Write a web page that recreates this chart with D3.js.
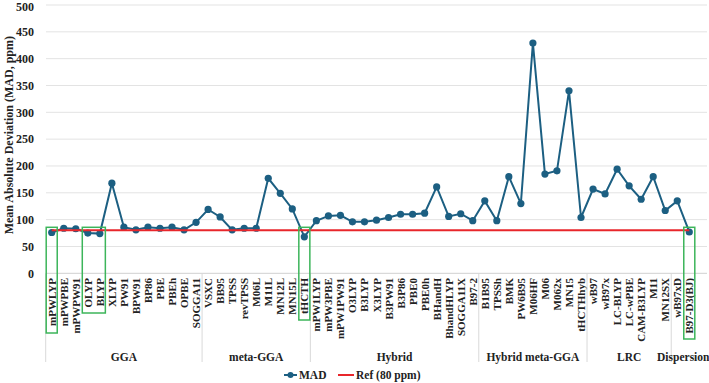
<!DOCTYPE html>
<html>
<head>
<meta charset="utf-8">
<script src="https://cdn.jsdelivr.net/npm/d3@7"></script>
<style>
  body { margin: 0; background: #fff; }
  svg { display: block; font-family: "Liberation Serif", "Times New Roman", serif; font-weight: bold; }
</style>
</head>
<body>
<svg id="chart"></svg>
<script>
// functionals, in plotted order
var categories = ["mPWLYP","mPWPBE","mPWPW91","OLYP","BLYP","XLYP","PW91","BPW91","BP86","PBE","PBEh","OPBE","SOGGA11",
  "VSXC","BB95","TPSS","revTPSS","M06L","M11L","MN12L","MN15L","tHCTH",
  "mPW1LYP","mPW3PBE","mPW1PW91","O3LYP","B3LYP","X3LYP","B3PW91","B3P86","PBE0","PBE0h","BHandH","BhandHLYP","SOGGA11X","B97-2",
  "B1B95","TPSSh","BMK","PW6B95","M06HF","M06","M062x","MN15","tHCTHhyb",
  "wB97","wB97x","LC-BLYP","LC-wPBE","CAM-B3LYP","M11","MN12SX",
  "wB97xD","B97-D3(BJ)"];
var madValues = [76,84,83,75,74,168,86,81,86,84,86,81,95,
  119,105,81,84,84,177,149,120,68,
  98,107,108,96,96,99,104,110,110,112,161,106,111,98,
  135,98,180,130,429,185,191,340,104,
  157,148,194,163,138,180,117,
  135,77];
var refValue = 80;
var groupNames = ["GGA","meta-GGA","Hybrid","Hybrid meta-GGA","LRC","Dispersion"];
var groupSizes = [13,9,14,9,7,2];
var yTicks = [0,50,100,150,200,250,300,350,400,450,500];
// highlighted functionals (boxed), as [first, last, box bottom]
var boxes = [["mPWLYP","mPWLYP",333],["OLYP","BLYP",313],["tHCTH","tHCTH",320],["B97-D3(BJ)","B97-D3(BJ)",339]];

var width = 709, height = 383;
var svg = d3.select("#chart").attr("width", width).attr("height", height);

var x = d3.scaleBand().domain(categories).range([45.7, 695.3]);
var y = d3.scaleLinear().domain([0, 500]).range([273.3, 5]);
var cx = function(c) { return x(c) + x.bandwidth() / 2; };

// grid
svg.append("g").selectAll("line")
   .data(yTicks)
   .enter().append("line")
   .attr("x1", 46).attr("x2", 707)
   .attr("y1", function(d) { return y(d); })
   .attr("y2", function(d) { return y(d); })
   .attr("stroke", function(d) { return d === 0 ? "#d0d0d0" : "#e3e3e3"; })
   .attr("stroke-width", 1);

svg.append("g").selectAll("text")
   .data(yTicks)
   .enter().append("text")
   .attr("x", 34)
   .attr("y", function(d) { return Math.max(y(d) + 4.2, 11); })
   .attr("text-anchor", "end")
   .attr("font-size", 12)
   .attr("fill", "#222")
   .text(function(d) { return d; });

svg.append("text")
   .attr("transform", "translate(12.5," + (y(250) - 4) + ") rotate(-90)")
   .attr("text-anchor", "middle")
   .attr("font-size", 12)
   .attr("fill", "#222")
   .text("Mean Absolute Deviation (MAD, ppm)");

// category labels
svg.append("g").selectAll("text")
   .data(categories)
   .enter().append("text")
   .attr("transform", function(d) { return "translate(" + cx(d) + ",278) rotate(-90)"; })
   .attr("text-anchor", "end")
   .attr("dominant-baseline", "central")
   .attr("font-size", 11)
   .attr("fill", "#222")
   .text(function(d) { return d; });

// group separators and labels
var starts = [0];
groupSizes.forEach(function(n, i) { starts.push(starts[i] + n); });
var edge = function(i) { return i < categories.length ? x(categories[i]) : x(categories[categories.length - 1]) + x.bandwidth(); };
svg.append("g").selectAll("line")
   .data(starts.slice(0, groupSizes.length))
   .enter().append("line")
   .attr("x1", function(d) { return edge(d); })
   .attr("x2", function(d) { return edge(d); })
   .attr("y1", 273.3).attr("y2", 362)
   .attr("stroke", "#d9d9d9").attr("stroke-width", 1);

svg.append("g").selectAll("text")
   .data(groupNames)
   .enter().append("text")
   .attr("x", function(d, i) { return (edge(starts[i]) + edge(starts[i + 1])) / 2; })
   .attr("y", 357)
   .attr("text-anchor", "middle")
   .attr("dominant-baseline", "central")
   .attr("font-size", 11.5)
   .attr("fill", "#222")
   .text(function(d) { return d; });

// MAD series
var line = d3.line()
   .x(function(d, i) { return cx(categories[i]); })
   .y(function(d) { return y(d); });

svg.append("path")
   .datum(madValues)
   .attr("d", line)
   .attr("fill", "none")
   .attr("stroke", "#1c5f82")
   .attr("stroke-width", 2);

svg.append("g").selectAll("circle")
   .data(madValues)
   .enter().append("circle")
   .attr("cx", function(d, i) { return cx(categories[i]); })
   .attr("cy", function(d) { return y(d); })
   .attr("r", 3.6)
   .attr("fill", "#1c5f82");

// reference line
svg.append("path")
   .datum(categories.map(function() { return refValue; }))
   .attr("d", line)
   .attr("fill", "none")
   .attr("stroke", "#e8262b")
   .attr("stroke-width", 2);

// highlight boxes
svg.append("g").selectAll("rect")
   .data(boxes)
   .enter().append("rect")
   .attr("x", function(d) { return x(d[0]) + 0.5; })
   .attr("y", 227.3)
   .attr("width", function(d) { return x(d[1]) + x.bandwidth() - x(d[0]) - 1; })
   .attr("height", function(d) { return d[2] - 227.3; })
   .attr("fill", "none")
   .attr("stroke", "#3cb55a")
   .attr("stroke-width", 1.5);

// legend
var lg = svg.append("g").attr("transform", "translate(0,375)");
lg.append("line").attr("x1", 284).attr("x2", 297).attr("y1", 0).attr("y2", 0)
  .attr("stroke", "#1c5f82").attr("stroke-width", 2);
lg.append("circle").attr("cx", 290.5).attr("cy", 0).attr("r", 3).attr("fill", "#1c5f82");
lg.append("text").attr("x", 299).attr("y", 0).attr("dominant-baseline", "central")
  .attr("font-size", 11.5).attr("fill", "#222").text("MAD");
lg.append("line").attr("x1", 338).attr("x2", 354).attr("y1", 0).attr("y2", 0)
  .attr("stroke", "#e8262b").attr("stroke-width", 2);
lg.append("text").attr("x", 356).attr("y", 0).attr("dominant-baseline", "central")
  .attr("font-size", 11.5).attr("fill", "#222").text("Ref (80 ppm)");
</script>
</body>
</html>
